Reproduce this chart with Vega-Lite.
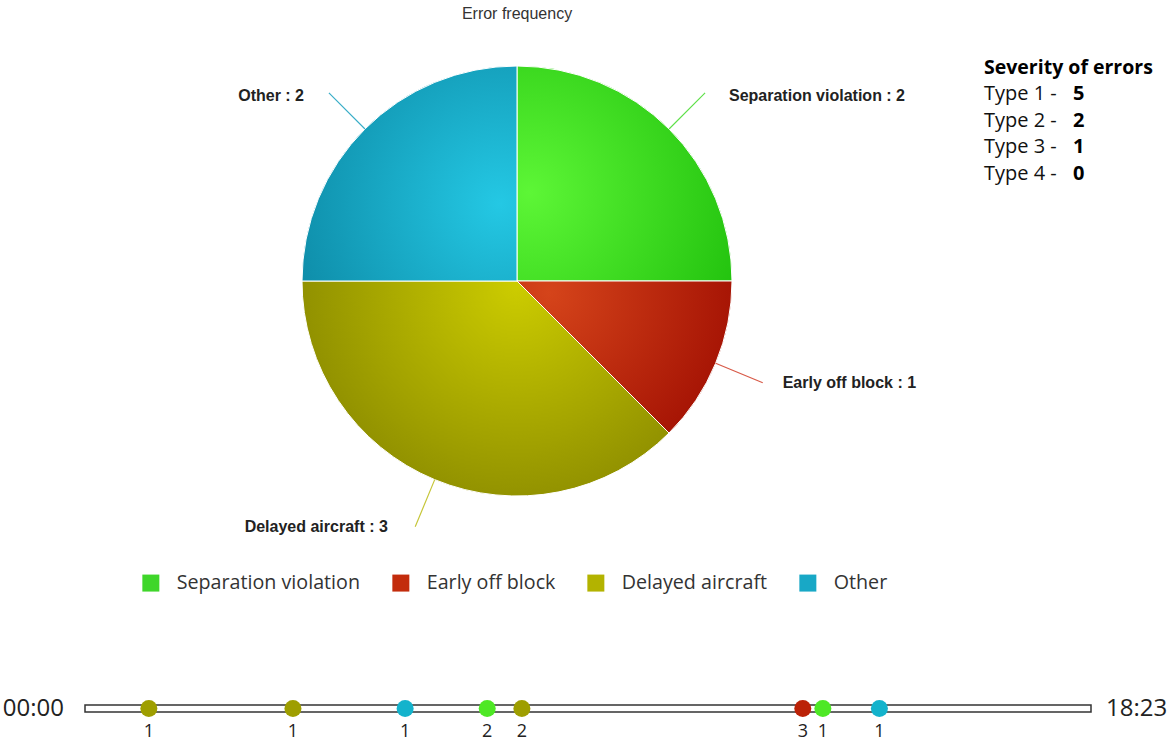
{
  "$schema": "https://vega.github.io/schema/vega-lite/v6.json",
  "padding": {"left": 2, "top": 6, "right": 2, "bottom": 2},
  "background": "white",
  "config": {"view": {"stroke": null}, "font": "Open Sans"},
  "bounds": "flush",
  "spacing": 612,
  "resolve": {"scale": {"color": "independent"}, "legend": {"color": "independent"}},
  "vconcat": [
    {
      "bounds": "flush",
      "spacing": 35,
      "resolve": {"scale": {"color": "independent"}, "legend": {"color": "independent"}},
      "hconcat": [
        {
          "width": 864,
          "height": 376,
          "title": {"text": "Error frequency", "font": "Liberation Sans", "fontSize": 16, "fontWeight": "normal", "color": "#333333", "anchor": "middle", "offset": 40},
          "data": {"values": [
            {"category": "Separation violation", "count": 2, "order": 1, "label": "Separation violation : 2"},
            {"category": "Early off block", "count": 1, "order": 2, "label": "Early off block : 1"},
            {"category": "Delayed aircraft", "count": 3, "order": 3, "label": "Delayed aircraft : 3"},
            {"category": "Other", "count": 2, "order": 4, "label": "Other : 2"}
          ]},
          "encoding": {
            "theta": {"field": "count", "type": "quantitative", "stack": true},
            "order": {"field": "order", "type": "quantitative"}
          },
          "layer": [
            {
              "mark": {"type": "arc", "outerRadius": 215, "stroke": "white", "strokeWidth": 1},
              "encoding": {
                "color": {
                  "field": "category", "type": "nominal",
                  "scale": {"domain": ["Separation violation", "Early off block", "Delayed aircraft", "Other"], "range": ["#3fd62a", "#c32c0c", "#b3b300", "#18a8c6"]},
                  "legend": {"orient": "none", "legendX": 56, "legendY": 480, "direction": "horizontal", "columns": 4, "title": null, "symbolType": "square", "symbolSize": 289, "symbolStrokeWidth": 0, "symbolOpacity": 1, "labelFont": "Open Sans", "labelFontSize": 19.7, "labelColor": "#333333", "labelOffset": 16, "columnPadding": 30, "labelLimit": 400}
                }
              }
            },
            {
              "mark": {"type": "arc", "outerRadius": 215, "stroke": "white", "strokeWidth": 1,
                "fill": {"gradient": "radial", "x1": 0.06, "y1": 0.59, "r1": 0, "x2": 0.06, "y2": 0.59, "r2": 1.05,
                  "stops": [{"offset": 0, "color": "#5df636"}, {"offset": 1, "color": "#22c20e"}]}},
              "encoding": {"opacity": {"condition": {"test": "datum.category === 'Separation violation'", "value": 1}, "value": 0}}
            },
            {
              "mark": {"type": "arc", "outerRadius": 215, "stroke": "white", "strokeWidth": 1,
                "fill": {"gradient": "radial", "x1": 0.15, "y1": 0.2, "r1": 0, "x2": 0.15, "y2": 0.2, "r2": 1.05,
                  "stops": [{"offset": 0, "color": "#d5441a"}, {"offset": 1, "color": "#9c0a00"}]}},
              "encoding": {"opacity": {"condition": {"test": "datum.category === 'Early off block'", "value": 1}, "value": 0}}
            },
            {
              "mark": {"type": "arc", "outerRadius": 215, "stroke": "white", "strokeWidth": 1,
                "fill": {"gradient": "radial", "x1": 0.586, "y1": 0.22, "r1": 0, "x2": 0.586, "y2": 0.22, "r2": 0.62,
                  "stops": [{"offset": 0, "color": "#cccc00"}, {"offset": 1, "color": "#8e8e00"}]}},
              "encoding": {"opacity": {"condition": {"test": "datum.category === 'Delayed aircraft'", "value": 1}, "value": 0}}
            },
            {
              "mark": {"type": "arc", "outerRadius": 215, "stroke": "white", "strokeWidth": 1,
                "fill": {"gradient": "radial", "x1": 0.92, "y1": 0.64, "r1": 0, "x2": 0.92, "y2": 0.64, "r2": 1.05,
                  "stops": [{"offset": 0, "color": "#24c8e4"}, {"offset": 1, "color": "#0d8aa6"}]}},
              "encoding": {"opacity": {"condition": {"test": "datum.category === 'Other'", "value": 1}, "value": 0}}
            },
            {
              "mark": {"type": "arc", "innerRadius": 215, "outerRadius": 266, "padAngle": 3.14, "fillOpacity": 0, "strokeWidth": 1.2},
              "encoding": {
                "stroke": {
                  "field": "category", "type": "nominal",
                  "scale": {"domain": ["Separation violation", "Early off block", "Delayed aircraft", "Other"], "range": ["#5fe04a", "#d85a48", "#c6c63a", "#3aaec8"]},
                  "legend": null
                }
              }
            },
            {
              "mark": {"type": "text", "radius": 280, "font": "Liberation Sans", "fontSize": 16, "fontWeight": "bold", "color": "#222222", "align": "left", "baseline": "middle", "dx": 14, "dy": 13},
              "encoding": {"text": {"condition": {"test": "datum.category === 'Separation violation'", "field": "label"}, "value": ""}}
            },
            {
              "mark": {"type": "text", "radius": 280, "font": "Liberation Sans", "fontSize": 16, "fontWeight": "bold", "color": "#222222", "align": "left", "baseline": "middle", "dx": 7, "dy": -5},
              "encoding": {"text": {"condition": {"test": "datum.category === 'Early off block'", "field": "label"}, "value": ""}}
            },
            {
              "mark": {"type": "text", "radius": 280, "font": "Liberation Sans", "fontSize": 16, "fontWeight": "bold", "color": "#222222", "align": "right", "baseline": "middle", "dx": -22, "dy": -13},
              "encoding": {"text": {"condition": {"test": "datum.category === 'Delayed aircraft'", "field": "label"}, "value": ""}}
            },
            {
              "mark": {"type": "text", "radius": 280, "font": "Liberation Sans", "fontSize": 16, "fontWeight": "bold", "color": "#222222", "align": "right", "baseline": "middle", "dx": -15, "dy": 13},
              "encoding": {"text": {"condition": {"test": "datum.category === 'Other'", "field": "label"}, "value": ""}}
            }
          ]
        },
        {
          "width": 2,
          "height": 80,
          "title": {"text": "Severity of errors", "anchor": "start", "font": "Open Sans", "fontSize": 19.5, "fontWeight": "bold", "color": "#000000", "offset": 6},
          "data": {"values": [
            {"type": "Type 1 -", "count": 5},
            {"type": "Type 2 -", "count": 2},
            {"type": "Type 3 -", "count": 1},
            {"type": "Type 4 -", "count": 0}
          ]},
          "encoding": {"y": {"field": "type", "type": "ordinal", "scale": {"type": "point", "padding": 0}, "axis": null}},
          "layer": [
            {"mark": {"type": "text", "align": "left", "baseline": "middle", "dx": -1, "dy": 1, "font": "Open Sans", "fontSize": 20, "color": "#111111"},
             "encoding": {"text": {"field": "type"}}},
            {"mark": {"type": "text", "align": "left", "baseline": "middle", "dx": 88, "dy": 1, "font": "Open Sans", "fontSize": 20, "fontWeight": "bold", "color": "#000000"},
             "encoding": {"text": {"field": "count", "type": "quantitative"}}}
          ]
        }
      ]
    },
    {
      "width": 1006,
      "height": 7,
      "layer": [
        {
          "data": {"values": [{"start": "2000-01-01T00:00:00", "end": "2000-01-01T18:23:00"}]},
          "layer": [
            {"mark": {"type": "rect", "fill": "white", "stroke": "#333333", "strokeWidth": 1.5},
             "encoding": {
               "x": {"field": "start", "type": "temporal", "axis": null, "scale": {"nice": false, "domain": [{"year": 2000, "month": 1, "date": 1, "hours": 0, "minutes": 0}, {"year": 2000, "month": 1, "date": 1, "hours": 18, "minutes": 23}]}},
               "x2": {"field": "end"}
             }},
            {"mark": {"type": "text", "align": "right", "baseline": "middle", "dx": -21, "font": "Open Sans", "fontSize": 24, "color": "#222222"},
             "encoding": {"x": {"field": "start", "type": "temporal"}, "text": {"field": "start", "type": "temporal", "format": "%H:%M"}}},
            {"mark": {"type": "text", "align": "left", "baseline": "middle", "dx": 15, "font": "Open Sans", "fontSize": 24, "color": "#222222"},
             "encoding": {"x": {"field": "end", "type": "temporal"}, "text": {"field": "end", "type": "temporal", "format": "%H:%M"}}}
          ]
        },
        {
          "data": {"values": [
            {"time": "2000-01-01T01:10:00", "category": "Delayed aircraft", "severity": 1},
            {"time": "2000-01-01T03:48:00", "category": "Delayed aircraft", "severity": 1},
            {"time": "2000-01-01T05:51:00", "category": "Other", "severity": 1},
            {"time": "2000-01-01T07:21:00", "category": "Separation violation", "severity": 2},
            {"time": "2000-01-01T07:59:00", "category": "Delayed aircraft", "severity": 2},
            {"time": "2000-01-01T13:07:00", "category": "Early off block", "severity": 3},
            {"time": "2000-01-01T13:29:00", "category": "Separation violation", "severity": 1},
            {"time": "2000-01-01T14:31:00", "category": "Other", "severity": 1}
          ]},
          "layer": [
            {"mark": {"type": "circle", "size": 290, "opacity": 1},
             "encoding": {
               "x": {"field": "time", "type": "temporal"},
               "color": {"field": "category", "type": "nominal", "legend": null,
                 "scale": {"domain": ["Separation violation", "Early off block", "Delayed aircraft", "Other"], "range": ["#4ee825", "#bb2207", "#9e9e00", "#14b3cc"]}}
             }},
            {"mark": {"type": "text", "baseline": "middle", "dy": 23, "font": "Open Sans", "fontSize": 18, "color": "#222222"},
             "encoding": {"x": {"field": "time", "type": "temporal"}, "text": {"field": "severity", "type": "quantitative"}}}
          ]
        }
      ]
    }
  ]
}
